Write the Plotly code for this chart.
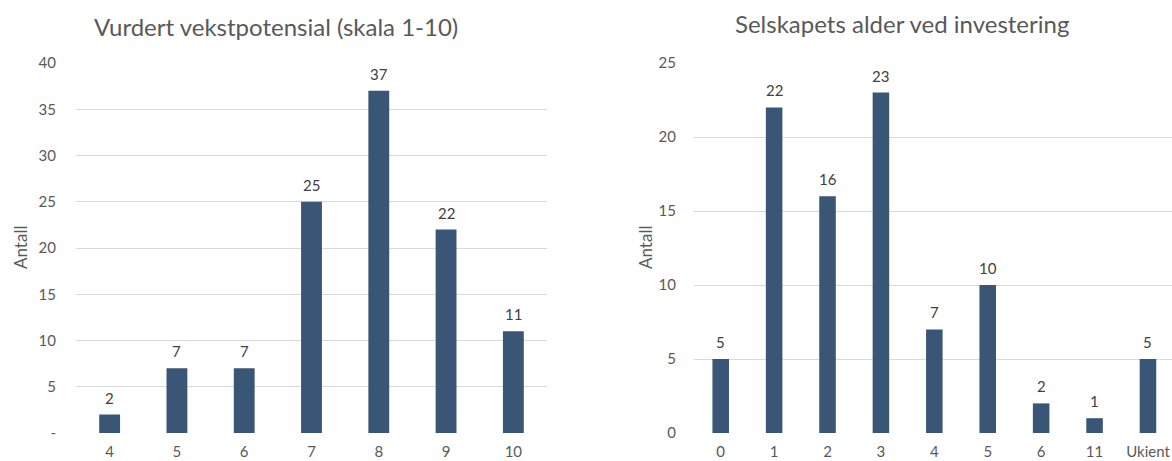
import plotly.graph_objects as go
from plotly.subplots import make_subplots

# Left panel: assessed growth potential (scale 1-10)
growth_scores = ["4", "5", "6", "7", "8", "9", "10"]
growth_counts = [2, 7, 7, 25, 37, 22, 11]

# Right panel: company age at time of investment
age_groups = ["0", "1", "2", "3", "4", "5", "6", "11", "Ukient"]
age_counts = [5, 22, 16, 23, 7, 10, 2, 1, 5]

left_ticks = [0, 5, 10, 15, 20, 25, 30, 35, 40]
left_ticktext = ["-", "5", "10", "15", "20", "25", "30", "35", "40"]
right_ticks = [0, 5, 10, 15, 20, 25]

W, H = 1172, 461
BAR = "#3A5676"
GRID = "#D9D9D9"
TXT = "#595959"
FONT = "Lato"

fig = make_subplots(rows=1, cols=2)

fig.add_trace(go.Bar(x=growth_scores, y=growth_counts, marker_color=BAR,
                     marker_line_width=0, showlegend=False), row=1, col=1)
fig.add_trace(go.Bar(x=age_groups, y=age_counts, marker_color=BAR,
                     marker_line_width=0, showlegend=False), row=1, col=2)

y_dom = [1 - 433 / H, 1 - 63 / H]

common_x = dict(showgrid=False, showline=False, zeroline=False,
                ticks="outside", ticklen=5, tickcolor="rgba(0,0,0,0)",
                tickfont=dict(size=15, color=TXT), automargin=False,
                type="category")
common_y = dict(showgrid=True, gridcolor=GRID, gridwidth=1, zeroline=False,
                showline=False, ticks="outside", tickcolor="rgba(0,0,0,0)",
                tickfont=dict(size=15, color=TXT), automargin=False)

fig.update_layout(
    width=W, height=H,
    margin=dict(l=0, r=0, t=0, b=0),
    paper_bgcolor="white", plot_bgcolor="white",
    bargap=0.69,
    font=dict(family=FONT, color=TXT, size=15),
    xaxis=dict(domain=[76 / W, 547 / W], range=[-0.5, 6.5], **common_x),
    xaxis2=dict(domain=[694 / W, 1.0], range=[-0.5, 8.45], **common_x),
    yaxis=dict(domain=y_dom, range=[0, 40], tickvals=left_ticks,
               ticktext=left_ticktext, ticklen=16, **common_y),
    yaxis2=dict(domain=y_dom, range=[0, 25], tickvals=right_ticks,
                ticklen=14, **common_y),
)

annotations = []
# value labels above each bar (category index used as x position)
for xref, yref, vals in (("x", "y", growth_counts), ("x2", "y2", age_counts)):
    for i, v in enumerate(vals):
        annotations.append(dict(x=i, y=v, xref=xref, yref=yref, text=str(v),
                                showarrow=False, yanchor="middle", yshift=17,
                                font=dict(size=15, color="#404040")))

# panel titles
annotations.append(dict(x=276 / W, y=1 - 26 / H, xref="paper", yref="paper",
                        text="Vurdert vekstpotensial (skala 1-10)",
                        showarrow=False, xanchor="center", yanchor="middle",
                        font=dict(size=24, color=TXT)))
annotations.append(dict(x=902 / W, y=1 - 24 / H, xref="paper", yref="paper",
                        text="Selskapets alder ved investering",
                        showarrow=False, xanchor="center", yanchor="middle",
                        font=dict(size=24, color=TXT)))

# y-axis titles
for xp in (20 / W, 645 / W):
    annotations.append(dict(x=xp, y=1 - 248 / H, xref="paper", yref="paper",
                            text="Antall", textangle=-90, showarrow=False,
                            xanchor="center", yanchor="middle",
                            font=dict(size=17, color=TXT)))

fig.update_layout(annotations=annotations)

fig.write_html("out.html")
